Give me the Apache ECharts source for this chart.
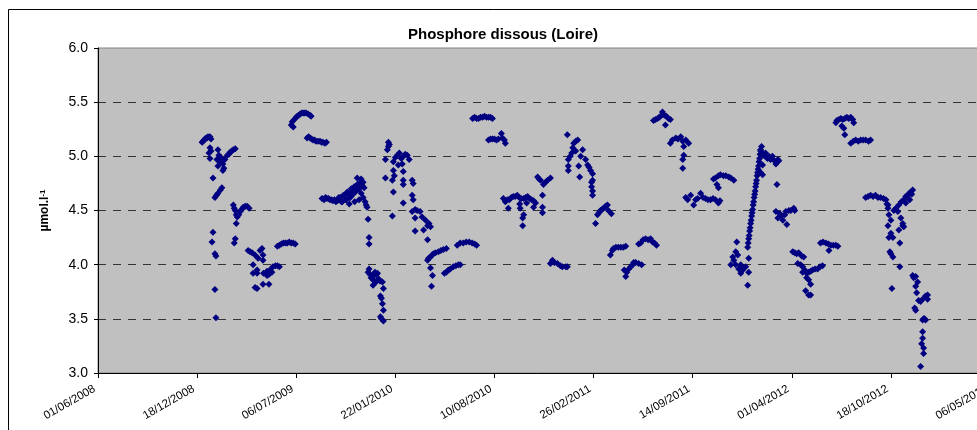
<!DOCTYPE html>
<html>
<head>
<meta charset="utf-8">
<script src="https://cdn.jsdelivr.net/npm/echarts@6/dist/echarts.min.js"></script>
<style>
  html, body { margin: 0; padding: 0; background: #fff; }
  #chart { width: 977px; height: 430px; }
</style>
</head>
<body>
<div id="chart"></div>
<script>
const chartTitle = 'Phosphore dissous (Loire)'
const xTickDates = ['2008-06-01', '2008-12-18', '2009-07-06', '2010-01-22', '2010-08-10',
  '2011-02-26', '2011-09-14', '2012-04-01', '2012-10-18', '2013-05-06']
const xMin = '2008-06-01'
const xMax = '2013-05-06'

const obs2008 = [['2008-12-28', 5.13], ['2008-12-30', 5.14]]

const obs2009 = [
  ['2009-01-01', 5.15], ['2009-01-03', 5.16], ['2009-01-05', 5.17], ['2009-01-07', 5.17], ['2009-01-09', 5.18],
  ['2009-01-13', 5.18], ['2009-01-15', 5.16], ['2009-01-13', 5.08], ['2009-01-11', 5.03], ['2009-01-13', 4.98],
  ['2009-01-15', 5.05], ['2009-01-29', 5.06], ['2009-01-31', 5.01], ['2009-01-27', 4.97], ['2009-02-02', 4.95],
  ['2009-02-08', 4.93], ['2009-02-12', 4.97], ['2009-02-04', 4.99], ['2009-02-06', 4.96], ['2009-02-17', 5.01],
  ['2009-02-20', 5.02], ['2009-02-23', 5.04], ['2009-02-26', 5.05], ['2009-03-01', 5.06], ['2009-03-05', 5.07],
  ['2009-01-29', 4.91], ['2009-02-08', 4.87], ['2009-02-10', 4.89], ['2009-01-19', 4.80], ['2009-01-23', 4.62],
  ['2009-01-26', 4.64], ['2009-01-29', 4.66], ['2009-02-06', 4.71], ['2009-02-03', 4.69], ['2009-01-19', 4.30],
  ['2009-01-17', 4.21], ['2009-01-23', 4.10], ['2009-01-25', 4.08], ['2009-01-23', 3.77], ['2009-01-25', 3.51],
  ['2009-03-01', 4.55], ['2009-03-03', 4.52], ['2009-03-05', 4.50], ['2009-03-07', 4.46], ['2009-03-09', 4.44],
  ['2009-03-12', 4.46], ['2009-03-15', 4.49], ['2009-03-18', 4.51], ['2009-03-21', 4.53], ['2009-03-25', 4.54],
  ['2009-03-29', 4.54], ['2009-04-02', 4.52], ['2009-03-07', 4.38], ['2009-03-05', 4.24], ['2009-03-03', 4.20],
  ['2009-03-31', 4.13], ['2009-04-04', 4.12], ['2009-04-08', 4.11], ['2009-04-14', 4.09], ['2009-04-20', 4.06],
  ['2009-04-24', 4.13], ['2009-04-28', 4.15], ['2009-04-30', 4.09], ['2009-04-30', 4.04], ['2009-04-10', 4.00],
  ['2009-04-18', 3.95], ['2009-04-10', 3.92], ['2009-04-18', 3.92], ['2009-04-14', 3.79], ['2009-04-18', 3.78],
  ['2009-04-30', 3.82], ['2009-05-12', 3.82], ['2009-05-01', 3.92], ['2009-05-08', 3.94], ['2009-05-14', 3.95],
  ['2009-05-20', 3.98], ['2009-05-25', 3.99], ['2009-05-29', 3.99], ['2009-06-02', 3.98], ['2009-05-08', 3.90],
  ['2009-05-18', 3.93], ['2009-05-12', 3.91],
  ['2009-05-29', 4.17], ['2009-06-02', 4.18], ['2009-06-06', 4.19], ['2009-06-10', 4.20], ['2009-06-14', 4.20],
  ['2009-06-18', 4.20], ['2009-06-22', 4.21], ['2009-06-26', 4.20], ['2009-06-30', 4.20], ['2009-07-04', 4.19],
  ['2009-06-26', 5.29], ['2009-06-28', 5.32], ['2009-07-02', 5.34], ['2009-06-30', 5.27], ['2009-07-06', 5.36],
  ['2009-07-08', 5.37], ['2009-07-11', 5.38], ['2009-07-14', 5.39], ['2009-07-17', 5.40], ['2009-07-20', 5.40],
  ['2009-07-23', 5.40], ['2009-07-26', 5.40], ['2009-07-30', 5.39], ['2009-08-03', 5.38], ['2009-08-05', 5.37],
  ['2009-07-28', 5.17], ['2009-07-31', 5.18], ['2009-08-03', 5.17], ['2009-08-06', 5.16], ['2009-08-09', 5.15],
  ['2009-08-12', 5.15], ['2009-08-15', 5.14], ['2009-08-19', 5.14], ['2009-08-23', 5.14], ['2009-08-26', 5.13],
  ['2009-08-29', 5.13], ['2009-09-02', 5.12], ['2009-09-05', 5.13],
  ['2009-08-27', 4.61], ['2009-08-31', 4.60], ['2009-09-03', 4.62], ['2009-09-06', 4.61], ['2009-09-09', 4.61],
  ['2009-09-12', 4.60], ['2009-09-15', 4.60], ['2009-09-18', 4.59], ['2009-09-21', 4.60], ['2009-09-24', 4.58],
  ['2009-09-27', 4.59], ['2009-09-30', 4.62], ['2009-10-03', 4.62], ['2009-10-05', 4.58], ['2009-10-07', 4.58],
  ['2009-10-09', 4.64], ['2009-10-11', 4.64], ['2009-10-13', 4.60], ['2009-10-15', 4.60], ['2009-10-17', 4.67],
  ['2009-10-19', 4.66], ['2009-10-21', 4.62], ['2009-10-23', 4.62], ['2009-10-25', 4.70], ['2009-10-27', 4.68],
  ['2009-10-29', 4.65], ['2009-10-31', 4.72], ['2009-11-02', 4.68], ['2009-11-04', 4.68], ['2009-11-06', 4.74],
  ['2009-11-06', 4.80], ['2009-11-08', 4.71], ['2009-11-10', 4.70], ['2009-11-12', 4.76], ['2009-11-14', 4.66],
  ['2009-11-14', 4.79], ['2009-11-16', 4.73], ['2009-11-18', 4.62], ['2009-11-18', 4.76], ['2009-11-20', 4.71],
  ['2009-11-22', 4.58], ['2009-11-24', 4.55], ['2009-11-26', 4.53], ['2009-10-21', 4.56], ['2009-11-01', 4.58],
  ['2009-11-10', 4.60],
  ['2009-11-28', 4.42], ['2009-11-30', 4.25], ['2009-11-30', 4.19],
  ['2009-11-28', 3.93], ['2009-11-30', 3.96], ['2009-12-02', 3.91], ['2009-12-04', 3.88], ['2009-12-06', 3.90],
  ['2009-12-08', 3.86], ['2009-12-10', 3.90], ['2009-12-12', 3.93], ['2009-12-15', 3.91], ['2009-12-17', 3.92],
  ['2009-12-19', 3.87], ['2009-12-22', 3.85], ['2009-12-27', 3.84], ['2009-12-08', 3.81], ['2009-12-14', 3.84],
  ['2009-12-29', 3.78], ['2009-12-23', 3.71], ['2009-12-25', 3.69], ['2009-12-27', 3.64], ['2009-12-29', 3.58],
  ['2009-12-23', 3.52], ['2009-12-25', 3.50], ['2009-12-29', 3.48]
]

const obs2010 = [
  ['2010-01-08', 5.13], ['2010-01-08', 5.09], ['2010-01-06', 5.06], ['2010-01-10', 5.11], ['2010-01-02', 4.97],
  ['2010-01-18', 4.95], ['2010-01-22', 4.99], ['2010-01-26', 5.01], ['2010-01-30', 5.03], ['2010-02-03', 4.98],
  ['2010-02-07', 5.00], ['2010-02-11', 5.02], ['2010-02-15', 5.01], ['2010-02-19', 4.97], ['2010-02-05', 4.93],
  ['2010-01-28', 4.92], ['2010-01-18', 4.87], ['2010-02-07', 4.86], ['2010-01-02', 4.80], ['2010-01-16', 4.78],
  ['2010-01-20', 4.82], ['2010-02-07', 4.78], ['2010-02-07', 4.74], ['2010-02-25', 4.78], ['2010-02-27', 4.75],
  ['2010-01-18', 4.67], ['2010-02-25', 4.64], ['2010-02-27', 4.60], ['2010-02-07', 4.57], ['2010-01-16', 4.45],
  ['2010-02-25', 4.49], ['2010-03-03', 4.51], ['2010-03-07', 4.50], ['2010-03-13', 4.49], ['2010-03-03', 4.43],
  ['2010-03-17', 4.44], ['2010-03-24', 4.41], ['2010-03-28', 4.36], ['2010-03-31', 4.38], ['2010-04-03', 4.35],
  ['2010-03-03', 4.31], ['2010-03-20', 4.32], ['2010-03-28', 4.23],
  ['2010-03-28', 4.04], ['2010-03-30', 4.06], ['2010-04-03', 4.07], ['2010-04-06', 4.09], ['2010-04-09', 4.10],
  ['2010-04-13', 4.11], ['2010-04-19', 4.12], ['2010-04-24', 4.13], ['2010-04-29', 4.14], ['2010-05-05', 4.15],
  ['2010-04-03', 3.97], ['2010-04-07', 3.90], ['2010-04-05', 3.80],
  ['2010-05-01', 3.92], ['2010-05-05', 3.93], ['2010-05-09', 3.95], ['2010-05-13', 3.96], ['2010-05-19', 3.98],
  ['2010-05-24', 3.99], ['2010-05-29', 4.00], ['2010-06-02', 4.00],
  ['2010-05-27', 4.18], ['2010-06-02', 4.20], ['2010-06-08', 4.20], ['2010-06-14', 4.21], ['2010-06-20', 4.21],
  ['2010-06-26', 4.20], ['2010-07-01', 4.19], ['2010-07-05', 4.18],
  ['2010-06-27', 5.35], ['2010-07-01', 5.36], ['2010-07-05', 5.35], ['2010-07-09', 5.35], ['2010-07-13', 5.36],
  ['2010-07-17', 5.36], ['2010-07-21', 5.37], ['2010-07-25', 5.36], ['2010-07-29', 5.36], ['2010-08-02', 5.36],
  ['2010-08-06', 5.35],
  ['2010-07-29', 5.15], ['2010-08-02', 5.16], ['2010-08-06', 5.16], ['2010-08-10', 5.16], ['2010-08-14', 5.15],
  ['2010-08-18', 5.16], ['2010-08-24', 5.21], ['2010-08-26', 5.17], ['2010-08-30', 5.15], ['2010-09-01', 5.12],
  ['2010-08-28', 4.61], ['2010-09-01', 4.58], ['2010-09-05', 4.60], ['2010-09-09', 4.60], ['2010-09-13', 4.62],
  ['2010-09-17', 4.63], ['2010-09-21', 4.63], ['2010-09-25', 4.64], ['2010-09-29', 4.62], ['2010-10-03', 4.61],
  ['2010-10-08', 4.61], ['2010-10-12', 4.62], ['2010-10-16', 4.63], ['2010-10-20', 4.61], ['2010-10-24', 4.60],
  ['2010-10-28', 4.59], ['2010-11-01', 4.57], ['2010-09-07', 4.52], ['2010-10-01', 4.52], ['2010-10-28', 4.53],
  ['2010-10-08', 4.46], ['2010-10-06', 4.43], ['2010-10-06', 4.36], ['2010-11-15', 4.53], ['2010-11-15', 4.48],
  ['2010-09-30', 4.56], ['2010-10-14', 4.57],
  ['2010-11-05', 4.81], ['2010-11-11', 4.78], ['2010-11-17', 4.74], ['2010-11-21', 4.76], ['2010-11-25', 4.78],
  ['2010-12-01', 4.80], ['2010-11-15', 4.64], ['2010-11-08', 4.79],
  ['2010-12-01', 4.01], ['2010-12-05', 4.04], ['2010-12-09', 4.02], ['2010-12-15', 4.01], ['2010-12-21', 3.99],
  ['2010-12-25', 3.98]
]

const obs2011 = [
  ['2011-01-01', 3.98], ['2011-01-04', 3.98],
  ['2011-01-04', 5.20], ['2011-01-17', 5.12], ['2011-01-21', 5.14], ['2011-01-25', 5.15], ['2011-01-15', 5.08],
  ['2011-01-10', 5.00], ['2011-01-06', 4.97], ['2011-02-04', 5.06], ['2011-01-31', 5.00], ['2011-01-06', 4.91],
  ['2011-01-06', 4.87], ['2011-01-27', 4.91], ['2011-01-29', 4.81], ['2011-02-10', 4.97], ['2011-02-14', 4.92],
  ['2011-02-20', 4.87], ['2011-02-24', 4.84], ['2011-02-24', 4.78], ['2011-02-22', 4.72], ['2011-02-24', 4.64],
  ['2011-01-21', 5.05], ['2011-02-17', 4.90], ['2011-02-22', 4.76], ['2011-01-13', 5.03], ['2011-02-24', 4.68],
  ['2011-03-02', 4.38], ['2011-03-06', 4.46], ['2011-03-09', 4.48], ['2011-03-12', 4.50], ['2011-03-15', 4.51],
  ['2011-03-18', 4.52], ['2011-03-22', 4.54], ['2011-03-26', 4.55], ['2011-03-28', 4.50], ['2011-04-03', 4.47],
  ['2011-04-01', 4.09], ['2011-04-05', 4.13], ['2011-04-07', 4.15], ['2011-04-12', 4.16], ['2011-04-17', 4.16],
  ['2011-04-22', 4.16], ['2011-04-27', 4.16], ['2011-05-02', 4.17],
  ['2011-04-29', 3.95], ['2011-05-02', 3.89], ['2011-05-04', 3.93], ['2011-05-08', 3.96], ['2011-05-12', 3.98],
  ['2011-05-16', 4.00], ['2011-05-18', 4.02], ['2011-05-22', 4.02], ['2011-05-28', 4.01], ['2011-06-03', 4.00],
  ['2011-05-28', 4.19], ['2011-06-01', 4.20], ['2011-06-06', 4.23], ['2011-06-11', 4.24], ['2011-06-16', 4.23],
  ['2011-06-21', 4.24], ['2011-06-25', 4.21], ['2011-06-29', 4.20], ['2011-07-03', 4.18],
  ['2011-06-27', 5.33], ['2011-07-01', 5.34], ['2011-07-05', 5.35], ['2011-07-09', 5.36], ['2011-07-13', 5.38],
  ['2011-07-15', 5.41], ['2011-07-19', 5.38], ['2011-07-23', 5.37], ['2011-07-27', 5.35], ['2011-07-21', 5.29],
  ['2011-07-31', 5.34],
  ['2011-07-31', 5.12], ['2011-08-04', 5.15], ['2011-08-11', 5.17], ['2011-08-15', 5.16], ['2011-08-21', 5.18],
  ['2011-08-25', 5.14], ['2011-08-31', 5.15], ['2011-09-06', 5.12], ['2011-08-27', 5.09], ['2011-08-27', 5.01],
  ['2011-08-25', 4.97], ['2011-08-25', 4.89],
  ['2011-08-31', 4.62], ['2011-09-04', 4.60], ['2011-09-10', 4.64], ['2011-09-16', 4.55], ['2011-09-20', 4.60],
  ['2011-09-24', 4.61], ['2011-09-30', 4.66], ['2011-10-05', 4.62], ['2011-10-10', 4.61], ['2011-10-15', 4.60],
  ['2011-10-20', 4.60], ['2011-10-25', 4.61], ['2011-10-30', 4.60], ['2011-11-05', 4.57], ['2011-11-08', 4.59],
  ['2011-10-26', 4.79], ['2011-10-30', 4.80], ['2011-11-05', 4.82], ['2011-11-09', 4.83], ['2011-11-15', 4.82],
  ['2011-11-20', 4.82], ['2011-11-26', 4.81], ['2011-11-30', 4.80], ['2011-12-06', 4.78], ['2011-11-05', 4.71],
  ['2011-11-02', 4.74],
  ['2011-12-12', 4.21], ['2011-12-10', 4.12], ['2011-12-04', 4.07], ['2011-12-14', 4.09], ['2011-11-30', 4.00],
  ['2011-12-10', 4.00], ['2011-12-20', 4.00], ['2011-12-26', 3.97], ['2011-12-20', 3.92], ['2011-12-06', 4.04],
  ['2011-12-16', 3.96], ['2011-12-30', 3.98], ['2011-12-24', 3.95]
]

const obs2012 = [
  ['2012-01-05', 3.93], ['2012-01-03', 3.81],
  ['2012-01-05', 4.06], ['2012-01-03', 4.16], ['2012-01-04', 4.20], ['2012-01-05', 4.24], ['2012-01-06', 4.27],
  ['2012-01-07', 4.31], ['2012-01-08', 4.34], ['2012-01-09', 4.38], ['2012-01-10', 4.41], ['2012-01-11', 4.45],
  ['2012-01-12', 4.48], ['2012-01-13', 4.51], ['2012-01-14', 4.55], ['2012-01-15', 4.58], ['2012-01-16', 4.62],
  ['2012-01-17', 4.65], ['2012-01-18', 4.68], ['2012-01-19', 4.72], ['2012-01-20', 4.75], ['2012-01-21', 4.78],
  ['2012-01-22', 4.82], ['2012-01-23', 4.85], ['2012-01-24', 4.88], ['2012-01-25', 4.91], ['2012-01-26', 4.95],
  ['2012-01-27', 4.98], ['2012-01-28', 5.02], ['2012-01-29', 5.05], ['2012-01-31', 5.09],
  ['2012-01-29', 5.06], ['2012-02-02', 5.03], ['2012-02-04', 5.01], ['2012-02-08', 5.03], ['2012-02-10', 4.99],
  ['2012-02-12', 4.98], ['2012-02-15', 5.00], ['2012-02-18', 4.97], ['2012-02-22', 5.00], ['2012-02-26', 4.96],
  ['2012-02-29', 4.93], ['2012-03-04', 4.97], ['2012-03-06', 4.96], ['2012-02-02', 4.92], ['2012-01-29', 4.85],
  ['2012-02-02', 4.83], ['2012-03-02', 4.74],
  ['2012-02-29', 4.49], ['2012-03-04', 4.43], ['2012-03-08', 4.47], ['2012-03-14', 4.41], ['2012-03-18', 4.46],
  ['2012-03-20', 4.49], ['2012-03-26', 4.50], ['2012-03-30', 4.50], ['2012-04-05', 4.52], ['2012-04-07', 4.50],
  ['2012-03-22', 4.37], ['2012-03-10', 4.45],
  ['2012-04-03', 4.12], ['2012-04-07', 4.11], ['2012-04-11', 4.10], ['2012-04-15', 4.11], ['2012-04-21', 4.08],
  ['2012-04-25', 4.07], ['2012-04-13', 4.01], ['2012-04-19', 4.00], ['2012-04-23', 3.98], ['2012-04-27', 3.95],
  ['2012-04-23', 3.93], ['2012-05-01', 3.92], ['2012-05-05', 3.93], ['2012-05-09', 3.94], ['2012-05-13', 3.95],
  ['2012-05-18', 3.96], ['2012-05-23', 3.96], ['2012-05-28', 3.98], ['2012-06-02', 3.99], ['2012-05-05', 3.86],
  ['2012-05-09', 3.82], ['2012-04-29', 3.76], ['2012-05-05', 3.72], ['2012-05-09', 3.72], ['2012-05-01', 3.88],
  ['2012-05-29', 4.20], ['2012-06-03', 4.21], ['2012-06-09', 4.20], ['2012-06-14', 4.19], ['2012-06-19', 4.18],
  ['2012-06-24', 4.18], ['2012-06-29', 4.18], ['2012-07-03', 4.17], ['2012-06-15', 4.13],
  ['2012-06-29', 5.31], ['2012-07-01', 5.33], ['2012-07-05', 5.34], ['2012-07-09', 5.35], ['2012-07-13', 5.34],
  ['2012-07-17', 5.35], ['2012-07-21', 5.36], ['2012-07-25', 5.35], ['2012-07-29', 5.36], ['2012-08-02', 5.34],
  ['2012-08-04', 5.31], ['2012-07-15', 5.26], ['2012-07-17', 5.20], ['2012-07-11', 5.28],
  ['2012-07-29', 5.12], ['2012-08-03', 5.14], ['2012-08-08', 5.15], ['2012-08-13', 5.14], ['2012-08-18', 5.15],
  ['2012-08-23', 5.15], ['2012-08-28', 5.15], ['2012-09-03', 5.14], ['2012-09-07', 5.15],
  ['2012-08-28', 4.62], ['2012-09-02', 4.63], ['2012-09-07', 4.64], ['2012-09-12', 4.63], ['2012-09-17', 4.64],
  ['2012-09-22', 4.62], ['2012-09-27', 4.62], ['2012-10-03', 4.61], ['2012-10-08', 4.60], ['2012-10-10', 4.56],
  ['2012-10-12', 4.55], ['2012-10-12', 4.52], ['2012-10-14', 4.46], ['2012-10-18', 4.41], ['2012-10-12', 4.36],
  ['2012-10-18', 4.29], ['2012-10-14', 4.25], ['2012-10-18', 4.10], ['2012-10-22', 4.07], ['2012-10-20', 3.78],
  ['2012-10-16', 4.12], ['2012-10-22', 4.25],
  ['2012-10-24', 4.50], ['2012-10-28', 4.52], ['2012-11-03', 4.55], ['2012-11-08', 4.58], ['2012-11-13', 4.60],
  ['2012-11-17', 4.63], ['2012-11-21', 4.64], ['2012-11-24', 4.66], ['2012-11-27', 4.67], ['2012-12-01', 4.69],
  ['2012-11-17', 4.57], ['2012-11-25', 4.60], ['2012-11-29', 4.65],
  ['2012-11-07', 4.43], ['2012-11-11', 4.36], ['2012-11-13', 4.35], ['2012-11-03', 4.32], ['2012-11-05', 4.20],
  ['2012-11-05', 3.98], ['2012-11-11', 4.38], ['2012-11-01', 4.49],
  ['2012-12-01', 3.90], ['2012-12-03', 3.88], ['2012-12-07', 3.89], ['2012-12-11', 3.84], ['2012-12-07', 3.80],
  ['2012-12-09', 3.74], ['2012-12-13', 3.67], ['2012-12-17', 3.66], ['2012-12-23', 3.69], ['2012-12-27', 3.71],
  ['2012-12-31', 3.72], ['2012-12-31', 3.68], ['2012-12-05', 3.60], ['2012-12-07', 3.58], ['2012-12-21', 3.49],
  ['2012-12-23', 3.50], ['2012-12-25', 3.50], ['2012-12-27', 3.49], ['2012-12-21', 3.38], ['2012-12-21', 3.32],
  ['2012-12-19', 3.27], ['2012-12-23', 3.23], ['2012-12-23', 3.18], ['2012-12-17', 3.06]
]

const toMs = d => Date.parse(d)
const pad = n => (n < 10 ? '0' : '') + n
const fmtDate = v => {
  const d = new Date(v)
  return pad(d.getUTCDate()) + '/' + pad(d.getUTCMonth() + 1) + '/' + d.getUTCFullYear()
}

const points = [].concat(obs2008, obs2009, obs2010, obs2011, obs2012).map(p => [toMs(p[0]), p[1]])
const xTicks = xTickDates.map(toMs)

const myChart = echarts.init(document.getElementById('chart'), null, { renderer: 'canvas' })
const option = {
  animation: false,
  backgroundColor: '#fff',
  textStyle: { fontFamily: 'Liberation Sans, Arial, sans-serif' },
  title: {
    text: chartTitle,
    left: 498,
    textAlign: 'center',
    top: 22,
    textStyle: { fontSize: 15, fontWeight: 'bold', color: '#000' }
  },
  graphic: [
    {
      type: 'rect',
      silent: true,
      shape: { x: 8.5, y: 9.5, width: 1100, height: 600 },
      style: { fill: 'none', stroke: '#000', lineWidth: 1 }
    }
  ],
  grid: {
    left: 98,
    top: 48,
    right: -13,
    bottom: 57,
    containLabel: false,
    outerBoundsMode: 'none',
    show: true,
    backgroundColor: '#c0c0c0',
    borderColor: '#808080',
    borderWidth: 1
  },
  xAxis: {
    type: 'value',
    min: toMs(xMin),
    max: toMs(xMax),
    splitLine: { show: false },
    axisLine: { show: true, lineStyle: { color: '#000', width: 1 } },
    axisTick: { show: true, length: 5, customValues: xTicks, lineStyle: { color: '#000' } },
    axisLabel: {
      customValues: xTicks,
      rotate: 30,
      margin: 13,
      padding: [0, 4, 0, 0],
      fontSize: 11.5,
      color: '#000',
      formatter: v => fmtDate(v)
    }
  },
  yAxis: {
    type: 'value',
    min: 3,
    max: 6,
    interval: 0.5,
    name: '{a|µmol.l}{b|-1}',
    nameLocation: 'middle',
    nameRotate: 90,
    nameGap: 47,
    nameTextStyle: {
      rich: {
        a: { fontSize: 12, fontWeight: 'bold', color: '#000', fontFamily: 'Liberation Sans, Arial' },
        b: { fontSize: 8, fontWeight: 'bold', color: '#000', verticalAlign: 'top', fontFamily: 'Liberation Sans, Arial' }
      }
    },
    axisLine: { show: true, lineStyle: { color: '#000', width: 1 } },
    axisTick: { show: true, length: 4, lineStyle: { color: '#000' } },
    axisLabel: {
      margin: 10,
      fontSize: 14,
      color: '#000',
      formatter: v => v.toFixed(1)
    },
    splitLine: {
      show: true,
      showMinLine: false,
      showMaxLine: false,
      lineStyle: { color: '#333', width: 1, type: [8, 7] }
    }
  },
  series: [
    {
      type: 'scatter',
      symbol: 'diamond',
      symbolSize: 7,
      data: points,
      itemStyle: { color: '#000080', opacity: 1 }
    }
  ]
}
myChart.setOption(option)
</script>
</body>
</html>
